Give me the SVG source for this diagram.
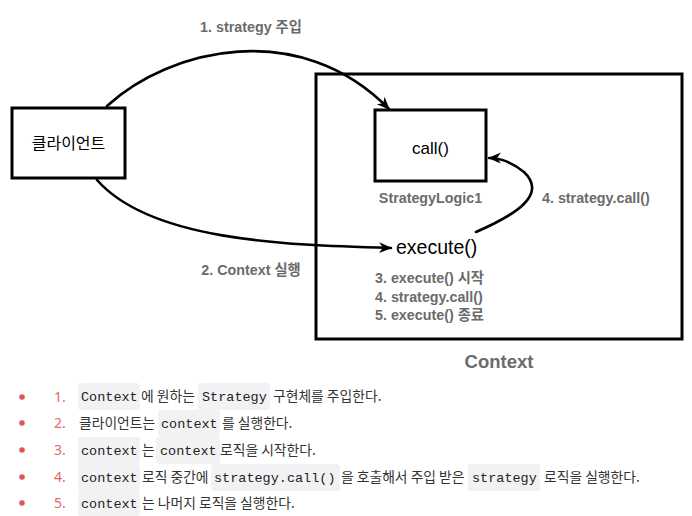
<svg xmlns="http://www.w3.org/2000/svg" width="692" height="516" viewBox="0 0 692 516">
<style>
.box{fill:#fff;stroke:#000;stroke-width:3}
.conn{fill:none;stroke:#000;stroke-width:2.6;stroke-linecap:round}
.lbl{font-family:"Liberation Sans","Noto Sans CJK KR",sans-serif;font-weight:bold;font-size:14.3px;fill:#6b6b6b}
.name{font-family:"Liberation Sans","Noto Sans CJK KR",sans-serif;font-size:17px;fill:#000}
.kr{font-family:"Noto Sans CJK KR","Noto Sans",sans-serif;font-size:13.8px;fill:#333}
.code{font-family:"Liberation Mono","DejaVu Sans Mono",monospace;font-size:13.5px;fill:#222}
.cbg{fill:#f2f2f4}
.num{font-family:"Noto Sans","Liberation Sans",sans-serif;font-size:14px;fill:#e06a6a}
.dot{fill:#e05555}
</style>
<defs>
<marker id="ah" viewBox="0 0 12 10" refX="11" refY="5" markerWidth="5" markerHeight="5" orient="auto" markerUnits="strokeWidth">
<path d="M0,0 L12,5 L0,10 L3.5,5 z" fill="#000"/>
</marker>
</defs>
<rect width="692" height="516" fill="#fff"/>

<g id="context">
<rect class="box" x="316" y="74" width="366" height="265"/>
<text class="lbl" x="499" y="368" text-anchor="middle" style="font-size:18.5px">Context</text>
</g>
<g id="client">
<rect class="box" x="12" y="108" width="113" height="70"/>
<text class="name" x="68.5" y="149" text-anchor="middle" style="font-family:'Noto Sans CJK KR',sans-serif;font-size:16px">클라이언트</text>
</g>
<g id="call">
<rect class="box" x="375" y="110" width="111" height="71"/>
<text class="name" x="430.5" y="154" text-anchor="middle">call()</text>
<text class="lbl" x="430.5" y="203" text-anchor="middle">StrategyLogic1</text>
</g>
<g id="execute">
<text class="name" x="396" y="254" style="font-size:19.5px">execute()</text>
<text class="lbl" x="375" y="283">3. execute() 시작</text>
<text class="lbl" x="375" y="302">4. strategy.call()</text>
<text class="lbl" x="375" y="320">5. execute() 종료</text>
</g>

<g id="connectors">
<path class="conn" marker-end="url(#ah)" d="M107,106 C170,48 300,18 389,109"/>
<text class="lbl" x="251" y="32" text-anchor="middle">1. strategy 주입</text>
<path class="conn" marker-end="url(#ah)" d="M97,180 C150,240 280,245 391,248"/>
<text class="lbl" x="251" y="275" text-anchor="middle">2. Context 실행</text>
<path class="conn" marker-end="url(#ah)" d="M476,232 C515,215 548,195 524,172 C513,163 500,158 489,158"/>
<text class="lbl" x="542" y="203">4. strategy.call()</text>
</g>

<g id="list">
<circle class="dot" cx="22" cy="397" r="2.8"/>
<circle class="dot" cx="22" cy="423" r="2.8"/>
<circle class="dot" cx="22" cy="450" r="2.8"/>
<circle class="dot" cx="22" cy="477" r="2.8"/>
<circle class="dot" cx="22" cy="503" r="2.8"/>
<text class="num" x="54" y="402">1.</text>
<text class="num" x="54" y="428">2.</text>
<text class="num" x="54" y="455">3.</text>
<text class="num" x="54" y="482">4.</text>
<text class="num" x="54" y="508">5.</text>

<rect class="cbg" x="78" y="383" width="62" height="27" rx="3"/>
<text class="code" x="81" y="401">Context</text>
<text class="kr" x="141" y="401">에 원하는</text>
<rect class="cbg" x="198" y="383" width="72" height="27" rx="3"/>
<text class="code" x="202" y="401">Strategy</text>
<text class="kr" x="273" y="401">구현체를 주입한다.</text>

<text class="kr" x="79" y="428">클라이언트는</text>
<rect class="cbg" x="158" y="410" width="62" height="27" rx="3"/>
<text class="code" x="161" y="428">context</text>
<text class="kr" x="222" y="428">를 실행한다.</text>

<rect class="cbg" x="78" y="437" width="62" height="27" rx="3"/>
<text class="code" x="81" y="455">context</text>
<text class="kr" x="142" y="455">는</text>
<rect class="cbg" x="156" y="437" width="64" height="27" rx="3"/>
<text class="code" x="160" y="455">context</text>
<text class="kr" x="220" y="455">로직을 시작한다.</text>

<rect class="cbg" x="78" y="464" width="62" height="27" rx="3"/>
<text class="code" x="81" y="482">context</text>
<text class="kr" x="142" y="482">로직 중간에</text>
<rect class="cbg" x="211" y="464" width="129" height="27" rx="3"/>
<text class="code" x="214" y="482">strategy.call()</text>
<text class="kr" x="341" y="482">을 호출해서 주입 받은</text>
<rect class="cbg" x="468" y="464" width="72" height="27" rx="3"/>
<text class="code" x="472" y="482">strategy</text>
<text class="kr" x="544" y="482">로직을 실행한다.</text>

<rect class="cbg" x="78" y="491" width="62" height="25" rx="3"/>
<text class="code" x="81" y="508">context</text>
<text class="kr" x="142" y="508">는 나머지 로직을 실행한다.</text>
</g>
</svg>
